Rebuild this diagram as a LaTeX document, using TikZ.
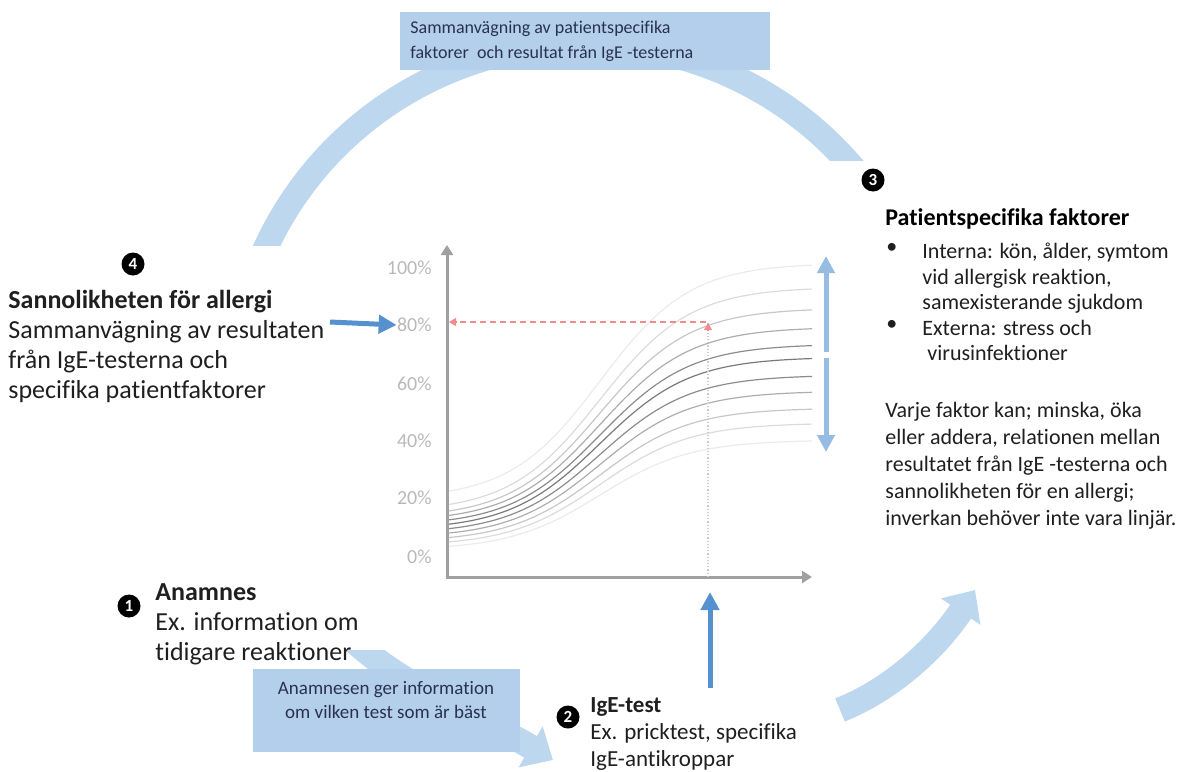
\documentclass[tikz,border=0pt]{standalone}
\usepackage{fontspec}
\setmainfont{Carlito}[Ligatures=NoCommon]
\usetikzlibrary{arrows.meta,positioning}

\definecolor{arcblue}{RGB}{189,215,238}
\definecolor{boxblue}{RGB}{180,207,235}
\definecolor{midblue}{RGB}{84,145,206}
\definecolor{paleblue}{RGB}{150,188,226}
\definecolor{axisgray}{RGB}{160,160,160}
\definecolor{labgray}{RGB}{185,185,185}
\definecolor{guidered}{RGB}{238,140,140}
\definecolor{guidegray}{RGB}{215,200,200}
\definecolor{boxtext}{RGB}{40,50,80}

\begin{document}
\begin{tikzpicture}[
    x=0.5pt, y=-0.5pt,
    num/.style = {shape=circle, fill=black, text=white, font=\bfseries\fontsize{8.5}{8.5}\selectfont, minimum size=11.5pt, inner sep=0pt},
    block/.style = {anchor=west, inner sep=0pt, align=left, text=black!88, font=\fontsize{13}{15}\selectfont},
    sidetext/.style = {anchor=north west, inner sep=0pt, align=left, text=black!88, font=\fontsize{11}{12.6}\selectfont},
    pct/.style = {anchor=east, inner sep=0pt, text=labgray, font=\fontsize{10}{10}\selectfont},
    axisline/.style = {draw=axisgray, line width=1.5pt, -{Triangle[width=6pt,length=5pt]}},
    guide/.style = {draw=guidered, densely dashed, line width=0.6pt, -{Triangle[width=4pt,length=3.5pt]}},
    band/.style = {draw=arcblue, line width=12.5pt},
    bandarrow/.style = {band, -{Triangle[width=23pt,length=13pt]}},
    pointer/.style = {draw=midblue, line width=2.5pt, -{Triangle[width=9pt,length=9pt]}},
    spanarrow/.style = {draw=paleblue, line width=2.5pt, -{Triangle[width=8.5pt,length=8.5pt]}},
    note/.style = {fill=boxblue, text=boxtext, inner sep=0pt}
    ]
    \useasboundingbox (0,0) rectangle (1186,771);

    % Outer cycle
    \begin{scope}
        \clip (0,0) rectangle (585,245);
        \draw[band] (585,396) ++(200:352) arc[start angle=200, end angle=325, radius=352];
    \end{scope}
    \begin{scope}
        \clip (585,0) rectangle (1186,160);
        \draw[band] (585,396) ++(200:352) arc[start angle=200, end angle=325, radius=352];
    \end{scope}
    \node[note, minimum width=185pt, minimum height=29pt, anchor=north west] (sum box) at (400,12) {};
    \node[anchor=west, inner sep=0pt, text=boxtext, align=left, font=\fontsize{9}{12.5}\selectfont]
        (sum text) at ([xshift=5pt]sum box.west) {Sammanvägning av patientspecifika\\faktorer\ \ och resultat från IgE -testerna};

    \coordinate (anam out) at (345,632);
    \coordinate (test in)  at (553,760);
    \begin{scope}
        \clip (0,650) rectangle (1186,771);
        \draw[bandarrow] (anam out) .. controls (392,682) and (478,716) .. (test in);
    \end{scope}
    \node[note, minimum width=133.5pt, minimum height=41.5pt] (hint box) at (386,710) {};
    \node[align=center, inner sep=0pt, text=boxtext, font=\fontsize{9.5}{12}\selectfont]
        (hint text) at ([yshift=5pt]hint box.center) {Anamnesen ger information\\om vilken test som är bäst};

    \coordinate (test out) at (840,710);
    \coordinate (fact in)  at (975,590);
    \draw[bandarrow] (test out) .. controls (890,690) and (935,650) .. (fact in);

    % Chart
    \coordinate (origin) at (447,577);
    \coordinate (y top)  at (447,245);
    \coordinate (x end)  at (812,577);
    \foreach \l/\r/\g in {499/263/8, 512/287/14, 518/308/22, 522/327/32, 526/344/45,
                          530/357/52, 534/375/45, 538/391/32, 542/408/22, 546/423/14, 550/440/8}
        \draw[black!\g, line width=0.6pt] plot[domain=449:812, samples=60, smooth]
            (\x, {\l + (\r-\l)/(1+exp(-(\x-600)/45))});
    \draw[axisline] (origin) -- (y top);
    \draw[axisline] ([xshift=-0.75pt]origin) -- (x end);
    \foreach \v/\y in {100/268, 80/325, 60/384, 40/441, 20/498, 0/557}
        \node[pct] (lab \v) at (432,\y) {\v\%};

    % Reading the curve
    \coordinate (test mark) at (708,577);
    \coordinate (curve hit) at (708,323);
    \coordinate (prob mark) at (449,322);
    \draw[guidegray, densely dotted, line width=0.6pt] (test mark) -- (curve hit);
    \draw[guide] ([yshift=-4pt]curve hit) -- (curve hit);
    \draw[guide] (706,322) -- (prob mark);

    % Step 4
    \node[num] (num 4) at (133,264) {4};
    \node[block] (txt 4) at (8,346) {\textbf{Sannolikheten för allergi}\\Sammanvägning av resultaten\\från IgE-testerna och\\specifika patientfaktorer};
    \coordinate (prob in) at (330,322);
    \draw[pointer] (prob in) -- (lab 80.west);

    % Step 3
    \node[num] (num 3) at (873,180) {3};
    \node[sidetext, font=\bfseries\fontsize{12}{14}\selectfont, text=black] (head 3) at (885,208) {Patientspecifika faktorer};
    \node[sidetext] (dot a) at (886,243) {•};
    \node[sidetext] (item a) at (922,243) {Interna: kön, ålder, symtom\\vid allergisk reaktion,\\samexisterande sjukdom};
    \node[sidetext] (dot b) at (886,320) {•};
    \node[sidetext] (item b) at (922,320) {Externa: stress och\\\ virusinfektioner};
    \node[sidetext, font=\fontsize{11}{13.5}\selectfont] (txt 3) at (885,402) {Varje faktor kan; minska, öka\\eller addera, relationen mellan\\resultatet från IgE -testerna och\\sannolikheten för en allergi;\\inverkan behöver inte vara linjär.};
    \coordinate (span mid) at (826,355);
    \draw[spanarrow] ([yshift=1.5pt]span mid) -- (826,256);
    \draw[spanarrow] ([yshift=-1.5pt]span mid) -- (826,452);

    % Step 1
    \node[num] (num 1) at (129,606) {1};
    \node[block] (txt 1) at (155,624) {\textbf{Anamnes}\\Ex. information om\\tidigare reaktioner};

    % Step 2
    \node[num] (num 2) at (568,717) {2};
    \node[block, font=\fontsize{11.5}{13.5}\selectfont] (txt 2) at (590,734) {\textbf{IgE-test}\\Ex. pricktest, specifika\\IgE-antikroppar};
    \coordinate (test arrow) at (710,688);
    \draw[pointer] (test arrow) -- (710,592);

\end{tikzpicture}
\end{document}
